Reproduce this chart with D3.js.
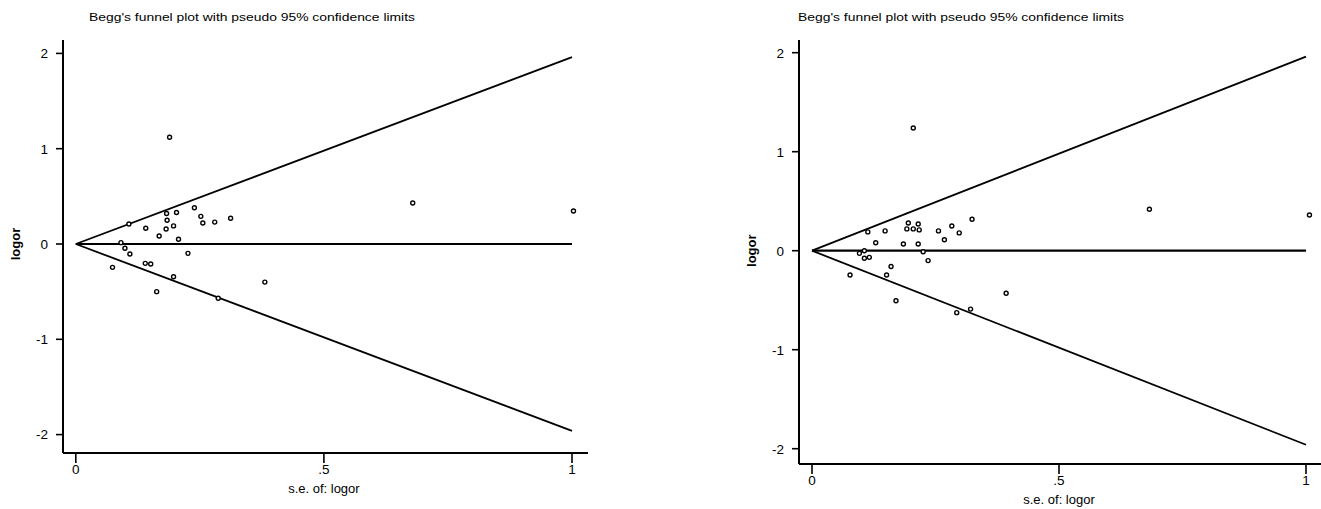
<!DOCTYPE html>
<html>
<head>
<meta charset="utf-8">
<script src="https://cdn.jsdelivr.net/npm/d3@7"></script>
<style>
  body { margin: 0; background: #fff; }
  svg { display: block; }
  text { font-family: "Liberation Sans", Arial, sans-serif; fill: #000; }
</style>
</head>
<body>
<div id="chart"></div>
<script>
// values
const xTickValues = [0, 0.5, 1];
const xTickLabels = ["0", ".5", "1"];
const yTickValues = [-2, -1, 0, 1, 2];
const yTickLabels = ["-2", "-1", "0", "1", "2"];
const titleText = "Begg's funnel plot with pseudo 95% confidence limits";
const xTitle = "s.e. of: logor";
const yTitle = "logor";

const leftSe = [0.189, 0.239, 0.183, 0.203, 0.252, 0.184, 0.197, 0.256, 0.280, 0.312,
  0.141, 0.107, 0.182, 0.168, 0.207, 0.091, 0.099, 0.109, 0.226, 0.074,
  0.140, 0.151, 0.197, 0.163, 0.381, 0.287, 0.679, 1.003];
const leftLogor = [1.12, 0.38, 0.32, 0.33, 0.29, 0.25, 0.19, 0.22, 0.23, 0.27,
  0.165, 0.21, 0.157, 0.084, 0.05, 0.014, -0.045, -0.105, -0.098, -0.245,
  -0.203, -0.21, -0.343, -0.50, -0.40, -0.57, 0.43, 0.346];

const rightSe = [0.205, 0.324, 0.113, 0.148, 0.195, 0.192, 0.205, 0.215, 0.217, 0.256,
  0.283, 0.298, 0.268, 0.185, 0.215, 0.129, 0.225, 0.235, 0.106, 0.096,
  0.106, 0.116, 0.160, 0.151, 0.077, 0.170, 0.393, 0.293, 0.321, 0.683, 1.007];
const rightLogor = [1.24, 0.317, 0.19, 0.20, 0.28, 0.22, 0.22, 0.27, 0.21, 0.20,
  0.25, 0.18, 0.11, 0.068, 0.068, 0.08, -0.01, -0.10, 0.0, -0.027,
  -0.077, -0.067, -0.16, -0.245, -0.245, -0.505, -0.43, -0.626, -0.59, 0.418, 0.36];

const width = 1321, height = 509;
const svg = d3.select("#chart").append("svg")
  .attr("width", width)
  .attr("height", height);

function drawPanel(p, se, logor) {
  const x = d3.scaleLinear().domain([0, 1]).range([p.x0, p.x1]);
  const y = d3.scaleLinear().domain([-2, 2]).range([p.yBottom, p.yTop]);
  const g = svg.append("g");

  // title
  g.append("text")
    .attr("x", p.titleX)
    .attr("y", 21)
    .attr("font-size", 11.5)
    .attr("textLength", 326)
    .attr("lengthAdjust", "spacingAndGlyphs")
    .text(titleText);

  // axes
  g.append("line")
    .attr("x1", p.axisX).attr("x2", p.axisX)
    .attr("y1", 40).attr("y2", p.axisY)
    .attr("stroke", "#000").attr("stroke-width", 2);
  g.append("line")
    .attr("x1", p.axisX).attr("x2", p.axisEnd)
    .attr("y1", p.axisY).attr("y2", p.axisY)
    .attr("stroke", "#000").attr("stroke-width", 2);

  yTickValues.forEach((v, i) => {
    g.append("line")
      .attr("x1", p.axisX - 7).attr("x2", p.axisX)
      .attr("y1", y(v)).attr("y2", y(v))
      .attr("stroke", "#000").attr("stroke-width", 1.6);
    g.append("text")
      .attr("x", p.axisX - 15)
      .attr("y", y(v))
      .attr("dy", "0.36em")
      .attr("text-anchor", "end")
      .attr("font-size", 13.5)
      .text(yTickLabels[i]);
  });

  xTickValues.forEach((v, i) => {
    g.append("line")
      .attr("x1", x(v)).attr("x2", x(v))
      .attr("y1", p.axisY).attr("y2", p.axisY + 10)
      .attr("stroke", "#000").attr("stroke-width", 1.6);
    g.append("text")
      .attr("x", x(v))
      .attr("y", p.axisY + 21)
      .attr("text-anchor", "middle")
      .attr("font-size", 13.5)
      .text(xTickLabels[i]);
  });

  g.append("text")
    .attr("x", x(0.5))
    .attr("y", p.axisY + 40)
    .attr("text-anchor", "middle")
    .attr("font-size", 13)
    .text(xTitle);

  g.append("text")
    .attr("transform", `translate(${p.axisX - 43},${y(0)}) rotate(-90)`)
    .attr("text-anchor", "middle")
    .attr("font-size", 13)
    .attr("font-weight", "bold")
    .text(yTitle);

  // funnel limits and zero line
  const line = d3.line().x(d => x(d[0])).y(d => y(d[1]));
  const limits = [
    [[0, 0], [1, 1.96]],
    [[0, 0], [1, -1.96]]
  ];
  limits.forEach(l => {
    g.append("path")
      .attr("d", line(l))
      .attr("fill", "none")
      .attr("stroke", "#000")
      .attr("stroke-width", 1.8);
  });
  g.append("path")
    .attr("d", line([[0, 0], [1, 0]]))
    .attr("fill", "none")
    .attr("stroke", "#000")
    .attr("stroke-width", 2.2);

  // study points
  g.selectAll("circle.pt")
    .data(se.map((s, i) => [s, logor[i]]))
    .enter()
    .append("circle")
    .attr("class", "pt")
    .attr("cx", d => x(d[0]))
    .attr("cy", d => y(d[1]))
    .attr("r", 2)
    .attr("fill", "#fff")
    .attr("stroke", "#000")
    .attr("stroke-width", 1.4);
}

drawPanel({ x0: 75.8, x1: 572, yBottom: 434.6, yTop: 53.4, axisX: 63, axisY: 453, axisEnd: 588, titleX: 89 },
  leftSe, leftLogor);
drawPanel({ x0: 812, x1: 1306, yBottom: 448.7, yTop: 52.7, axisX: 799, axisY: 464, axisEnd: 1321, titleX: 798 },
  rightSe, rightLogor);
</script>
</body>
</html>
